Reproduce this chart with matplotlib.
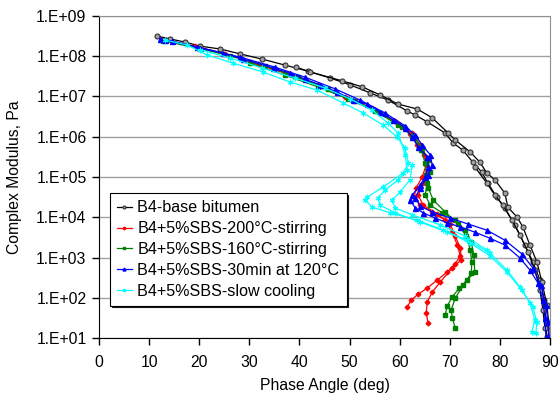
import numpy as np
import matplotlib
matplotlib.use("Agg")
import matplotlib.pyplot as plt

plt.rcParams['font.family'] = ['Liberation Sans', 'DejaVu Sans']

# (phase angle deg, log10 |G*| Pa)
base_a = [(11.6,8.50),(14.2,8.43),(17.2,8.35),(20.2,8.25),(24.2,8.18),(28.1,8.06),(32.5,7.93),
          (37.1,7.78),(41.7,7.63),(46.1,7.46),(50.1,7.29),(54.1,7.09),(57.7,6.91),(61.5,6.64),
          (63.1,6.54),(65.5,6.37),(69.1,6.09),(70.7,5.84),(72.6,5.67),(74.6,5.37),(76.4,5.12),
          (77.6,4.85),(79.4,4.50),(81.0,4.23),(83.0,3.81),(85.0,3.31),(86.6,2.89),(88.0,2.44),
          (88.8,1.94),(89.2,1.45),(89.4,1.02)]
base_b = [(39.3,7.73),(42.1,7.61),(48.5,7.39),(52.5,7.24),(56.1,7.04),(59.7,6.81),(63.5,6.69),
          (66.5,6.47),(69.7,6.09),(71.1,5.92),(74.1,5.62),(76.0,5.37),(77.4,5.10),(79.0,4.93),
          (81.0,4.60),(81.6,4.25),(83.4,4.01),(84.6,3.76),(86.0,3.31),(87.4,2.89),(88.4,2.39),
          (89.4,1.82),(89.8,1.32),(89.8,1.02)]
base_c = [(75.0,5.25),(77.4,4.85),(79.0,4.55),(80.6,4.30),(82.4,3.93),(84.0,3.56),(85.6,3.14),
          (87.0,2.69),(88.0,2.19),(88.6,1.70),(89.0,1.25)]

red_a = [(12.6,8.40),(19.2,8.25),(25.1,8.06),(31.7,7.81),(38.1,7.56),(44.1,7.26),(50.1,6.94),
         (55.1,6.66),(59.7,6.32),(62.1,6.07),(63.5,5.80),(64.9,5.55),(65.3,5.30),(64.5,5.00),
         (63.3,4.73),(62.9,4.50),(64.1,4.30),(66.5,4.13),(69.1,3.93),(70.5,3.63),(71.5,3.31),
         (72.1,3.04),(71.1,2.84),(69.5,2.64),(67.5,2.44),(65.5,2.24),(63.7,2.09),(62.3,1.94),
         (61.5,1.77)]
red_b = [(30.1,7.86),(37.1,7.58),(43.7,7.29),(49.1,6.99),(54.5,6.71),(59.1,6.39),(62.5,6.09),
         (64.1,5.80),(65.5,5.47),(65.7,5.17),(64.7,4.85),(63.7,4.55),(64.7,4.30),(67.5,4.08),
         (70.1,3.83),(71.1,3.53),(72.1,3.24),(72.3,2.94),(70.5,2.74),(68.1,2.39),(66.5,2.14),
         (65.5,1.89),(65.3,1.62),(65.7,1.37)]

green_a = [(12.8,8.38),(19.8,8.20),(26.1,8.01),(33.1,7.76),(39.7,7.48),(45.7,7.19),(51.1,6.89),
           (56.1,6.59),(60.5,6.24),(62.9,5.99),(64.5,5.72),(65.7,5.42),(66.1,5.12),(65.5,4.85),
           (65.1,4.55),(66.1,4.30),(68.5,4.11),(71.1,3.93),(73.1,3.68),(74.3,3.39),(74.8,3.06),
           (75.0,2.64),(73.5,2.44),(71.9,2.24),(70.5,2.02),(69.5,1.80),(69.1,1.57)]
green_b = [(30.1,7.83),(37.1,7.53),(43.7,7.24),(49.7,6.94),(55.1,6.64),(59.7,6.29),(62.5,6.02),
           (64.3,5.67),(65.1,5.35),(65.3,5.05),(65.7,4.73),(66.7,4.43),(69.1,4.13),(71.7,3.83),
           (73.3,3.53),(74.1,3.19),(74.4,2.89),(74.3,2.61),(72.7,2.32),(71.1,1.99),(70.3,1.70),
           (70.5,1.50),(71.1,1.25)]

blue_a = [(12.2,8.43),(14.6,8.38),(19.6,8.23),(24.8,8.08),(28.7,7.93),(34.7,7.71),(38.1,7.58),
          (41.1,7.43),(44.1,7.29),(47.5,7.11),(50.7,6.91),(53.5,6.81),(56.1,6.61),(58.7,6.42),
          (61.1,6.22),(62.5,5.99),(63.7,5.75),(65.5,5.50),(65.7,5.25),(65.1,5.00),(64.1,4.80),
          (62.5,4.55),(62.1,4.43),(63.1,4.23),(64.7,4.11),(67.1,3.98),(69.5,3.86),(72.1,3.76),
          (75.0,3.63),(78.0,3.48),(81.0,3.31),(84.0,2.99),(86.0,2.69),(87.6,2.37),(88.6,1.94),
          (89.0,1.50),(89.2,1.02)]
blue_b = [(13.2,8.40),(20.2,8.20),(28.1,7.98),(35.1,7.73),(41.1,7.48),(47.1,7.19),(52.1,6.91),
          (57.1,6.59),(61.1,6.27),(63.1,6.04),(64.5,5.80),(66.1,5.55),(66.5,5.30),(65.7,5.05),
          (64.1,4.73),(63.1,4.48),(64.1,4.28),(66.5,4.13),(70.1,3.98),(73.7,3.83),(77.4,3.68),
          (81.0,3.43),(84.4,3.09),(86.6,2.74),(88.2,2.32),(89.2,1.82),(89.6,1.40),(89.8,1.02)]

cyan_a = [(13.2,8.40),(17.6,8.28),(21.6,8.03),(26.7,7.83),(32.7,7.61),(38.1,7.36),(43.5,7.16),
          (48.7,6.84),(52.7,6.59),(56.7,6.29),(59.5,5.99),(61.1,5.72),(61.7,5.35),(60.7,5.10),
          (56.7,4.75),(53.5,4.50),(53.1,4.43),(54.5,4.25),(58.1,4.11),(63.5,3.93),(68.7,3.68),
          (73.5,3.43),(78.0,3.11),(81.4,2.69),(84.0,2.27),(86.0,1.87),(87.0,1.45),(86.4,1.15)]
cyan_b = [(20.2,8.16),(26.1,7.96),(32.5,7.71),(39.1,7.46),(45.1,7.21),(50.1,6.94),(54.5,6.66),
          (57.7,6.34),(59.7,6.09),(61.1,5.55),(61.5,5.17),(59.7,4.93),(57.1,4.68),(55.7,4.48),
          (56.1,4.30),(59.1,4.11),(64.1,3.88),(69.5,3.63),(74.1,3.36),(78.0,3.04),(81.4,2.64),
          (84.4,2.19),(86.6,1.77),(87.4,1.40),(87.2,1.12)]
cyan_c = [(62.5,5.30),(62.1,4.93),(60.1,4.63),(58.5,4.43),(59.1,4.23),(62.5,4.06),(68.1,3.81),
          (73.1,3.53),(77.4,3.19)]

labels = ["B4-base bitumen", "B4+5%SBS-200°C-stirring", "B4+5%SBS-160°C-stirring",
          "B4+5%SBS-30min at 120°C", "B4+5%SBS-slow cooling"]
x_ticks = [0, 10, 20, 30, 40, 50, 60, 70, 80, 90]
y_exps = [1, 2, 3, 4, 5, 6, 7, 8, 9]

fig = plt.figure(figsize=(5.6, 4.0), dpi=100)
ax = fig.add_axes([0.177, 0.155, 0.805, 0.805])
ax.set_yscale('log')

asterisk = (6, 2, 0)
styles = [
    (labels[0], [base_a, base_b, base_c], dict(color='black', marker='o', ms=3.6,
        mfc='#a0a0a0', mec='#303030', mew=0.8)),
    (labels[1], [red_a, red_b], dict(color='red', marker='D', ms=2.4, mfc='red', mec='red')),
    (labels[2], [green_a, green_b], dict(color='green', marker='s', ms=3.0, mfc='green', mec='green')),
    (labels[3], [blue_a, blue_b], dict(color='blue', marker='^', ms=3.6, mfc='blue', mec='blue')),
    (labels[4], [cyan_a, cyan_b, cyan_c], dict(color='cyan', marker=asterisk, ms=4, mec='cyan', mew=0.8)),
]

handles = []
for lab, strands, kw in styles:
    for i, s in enumerate(strands):
        arr = np.array(s)
        h, = ax.plot(arr[:, 0], 10 ** arr[:, 1], lw=0.9, label=lab if i == 0 else None, **kw)
        if i == 0:
            handles.append(h)

ax.set_xlim(0, 90)
ax.set_ylim(1e1, 1e9)
ax.set_xticks(x_ticks)
ax.set_yticks([10.0 ** e for e in y_exps])
ax.set_yticklabels([f"1.E+{e:02d}" for e in y_exps])
ax.yaxis.set_minor_locator(matplotlib.ticker.NullLocator())
ax.tick_params(axis='both', direction='out', length=5, width=1, labelsize=11.3, colors='black')
ax.tick_params(axis='x', pad=7)
ax.tick_params(axis='y', pad=4)
ax.grid(axis='y', color='#a0a0a0', lw=1)
ax.set_axisbelow(True)
for side in ['top', 'right']:
    ax.spines[side].set_color('#909090')
for side in ['left', 'bottom']:
    ax.spines[side].set_color('black')
ax.set_xlabel("Phase Angle (deg)", fontsize=11.3, labelpad=6)
ax.set_ylabel("Complex Modulus, Pa", fontsize=11.3, labelpad=10)

leg = ax.legend(handles=handles, loc='lower left', bbox_to_anchor=(0.024, 0.10),
                fontsize=11.6, frameon=True, fancybox=False,
                shadow={'color': 'black', 'alpha': 0.85, 'ox': 1.2, 'oy': -1.2},
                markerscale=0.6,
                handlelength=0.9, handletextpad=0.35, labelspacing=0.36, borderpad=0.45,
                borderaxespad=0)
leg.get_frame().set_edgecolor('black')
leg.get_frame().set_linewidth(0.8)

fig.savefig("out.png", dpi=100)
